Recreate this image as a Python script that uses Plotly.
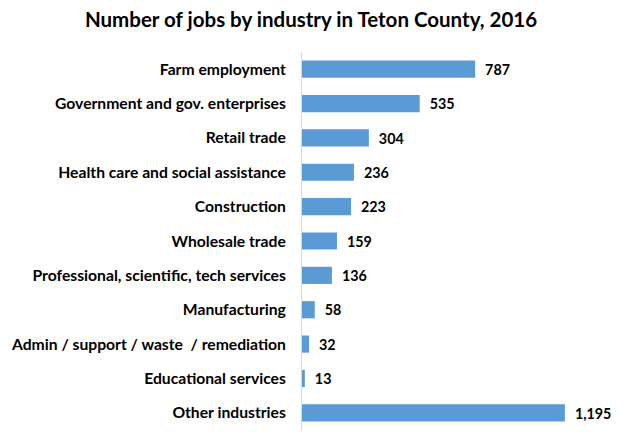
import plotly.graph_objects as go

categories = ["Farm employment", "Government and gov. enterprises", "Retail trade",
              "Health care and social assistance", "Construction", "Wholesale trade",
              "Professional, scientific, tech services", "Manufacturing",
              "Admin / support / waste  / remediation", "Educational services",
              "Other industries"]
values = [787, 535, 304, 236, 223, 159, 136, 58, 32, 13, 1195]
labels = ["{:,}".format(v) for v in values]

fig = go.Figure(go.Bar(
    x=values, y=categories, orientation="h",
    marker=dict(color="#5B9BD5", line=dict(width=0)),
    text=["  " + t for t in labels], textposition="outside",
    textfont=dict(family="Lato", size=15, color="#000000", weight="bold"),
    cliponaxis=False, hoverinfo="skip",
))

fig.update_layout(
    width=615, height=437,
    margin=dict(l=294, r=13, t=44, b=15, autoexpand=False),
    paper_bgcolor="white", plot_bgcolor="white",
    title=dict(text="<b>Number of jobs by industry in Teton County, 2016</b>",
               x=0.4927, xanchor="center", y=0.9725, yanchor="middle",
               font=dict(family="Lato", size=20.5, color="#000000")),
    bargap=0.5, showlegend=False,
    font=dict(family="Lato", size=15, color="#000000"),
)
fig.update_xaxes(range=[0, 1400], visible=False, showgrid=False, automargin=False)
fig.update_yaxes(autorange="reversed", showline=True, linecolor="#d9d9d9", linewidth=1,
                 showgrid=False, ticks="", ticklabelstandoff=12, automargin=False,
                 tickfont=dict(family="Lato", size=15.7, color="#000000", weight="bold"))

fig.write_html("out.html")
